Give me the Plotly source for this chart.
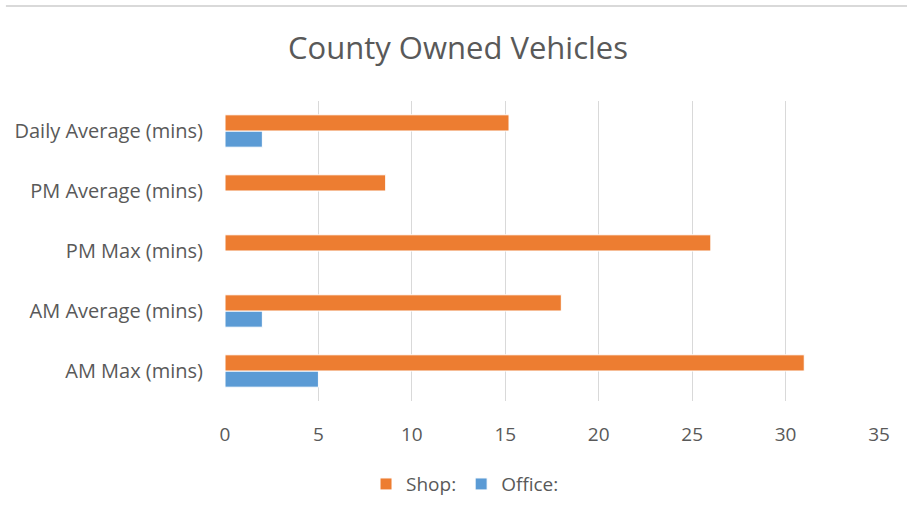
import plotly.graph_objects as go

categories = ["AM Max (mins)", "AM Average (mins)", "PM Max (mins)", "PM Average (mins)", "Daily Average (mins)"]
shop = [31, 18, 26, 8.6, 15.2]
office = [5, 2, 0, 0, 2]
x_ticks = [0, 5, 10, 15, 20, 25, 30, 35]

FONT = "Open Sans"
TXT = "#595959"

fig = go.Figure()
fig.add_trace(go.Bar(y=categories, x=office, name="Office:", orientation="h",
                     marker=dict(color="#5B9BD5", line=dict(color="white", width=1)),
                     legendrank=2))
fig.add_trace(go.Bar(y=categories, x=shop, name="Shop:", orientation="h",
                     marker=dict(color="#ED7D31", line=dict(color="white", width=1)),
                     legendrank=1))

fig.update_layout(
    width=907, height=518,
    margin=dict(l=225, r=28, t=101, b=117),
    paper_bgcolor="white", plot_bgcolor="white",
    barmode="group", bargap=0.46, bargroupgap=0,
    title=dict(text="County Owned Vehicles", x=0.505, xanchor="center", y=0.907, yanchor="middle",
               font=dict(family=FONT, size=31, color=TXT)),
    font=dict(family=FONT, color=TXT, size=18),
    xaxis=dict(range=[0, 35], tickvals=x_ticks, showgrid=True, gridcolor="#d9d9d9", gridwidth=1,
               zeroline=False, showline=False, ticks="", tickfont=dict(size=19, color=TXT),
               ticklabelstandoff=20),
    yaxis=dict(categoryorder="array", categoryarray=categories, showgrid=False, zeroline=False,
               showline=False, ticks="", tickfont=dict(size=20, color=TXT), ticklabelstandoff=21),
    legend=dict(orientation="h", x=0.367, xanchor="center", y=-0.277, yanchor="middle",
                font=dict(size=19, color=TXT), itemwidth=30, traceorder="normal"),
    shapes=[dict(type="line", xref="paper", yref="paper", x0=-0.335, x1=1.043, y0=1.317, y1=1.317,
                 line=dict(color="#d9d9d9", width=2))],
)
fig.write_html("out.html", config={"displayModeBar": False},
               post_script="document.body.style.margin='0';document.body.style.padding='0';")
